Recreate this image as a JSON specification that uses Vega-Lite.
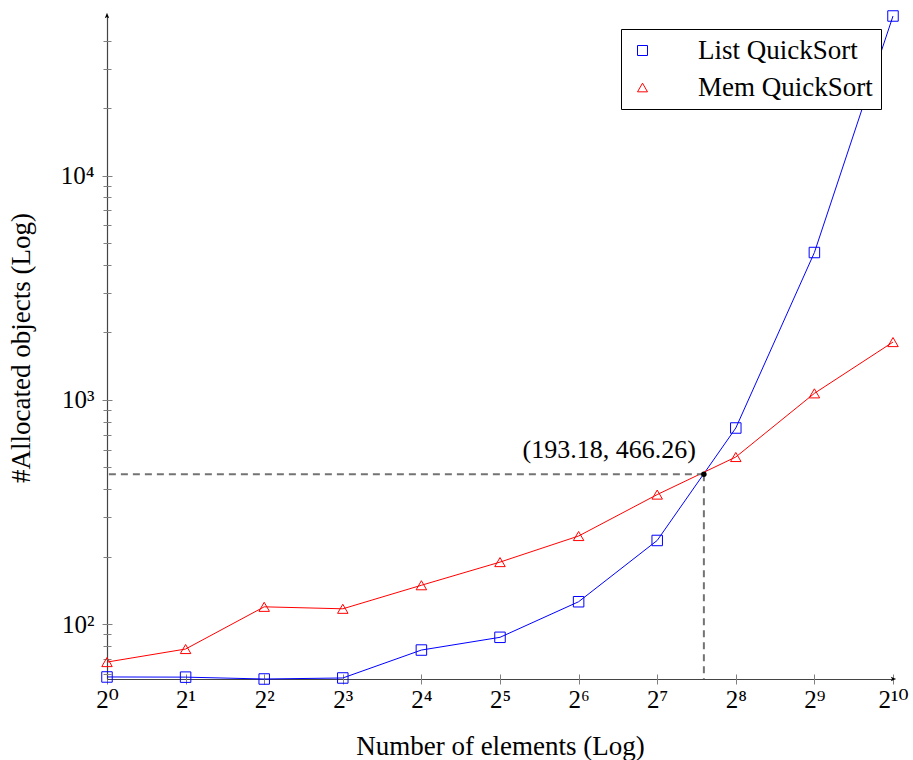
{
  "$schema": "https://vega.github.io/schema/vega-lite/v6.json",
  "autosize": "none",
  "width": 786,
  "height": 663,
  "padding": {"left": 107, "top": 16, "right": 20, "bottom": 81},
  "config": {"view": {"stroke": null}, "font": "Liberation Serif, DejaVu Serif"},
  "datasets": {
    "series": [
      {"n": 1, "series": "List QuickSort", "v": 58.1},
      {"n": 2, "series": "List QuickSort", "v": 58.0},
      {"n": 4, "series": "List QuickSort", "v": 56.9},
      {"n": 8, "series": "List QuickSort", "v": 57.5},
      {"n": 16, "series": "List QuickSort", "v": 76.6},
      {"n": 32, "series": "List QuickSort", "v": 87.3},
      {"n": 64, "series": "List QuickSort", "v": 125.8},
      {"n": 128, "series": "List QuickSort", "v": 236},
      {"n": 256, "series": "List QuickSort", "v": 749},
      {"n": 512, "series": "List QuickSort", "v": 4540},
      {"n": 1024, "series": "List QuickSort", "v": 51500},
      {"n": 1, "series": "Mem QuickSort", "v": 67.7},
      {"n": 2, "series": "Mem QuickSort", "v": 77.4},
      {"n": 4, "series": "Mem QuickSort", "v": 119.4},
      {"n": 8, "series": "Mem QuickSort", "v": 117},
      {"n": 16, "series": "Mem QuickSort", "v": 149},
      {"n": 32, "series": "Mem QuickSort", "v": 189},
      {"n": 64, "series": "Mem QuickSort", "v": 247},
      {"n": 128, "series": "Mem QuickSort", "v": 378},
      {"n": 256, "series": "Mem QuickSort", "v": 556},
      {"n": 512, "series": "Mem QuickSort", "v": 1069},
      {"n": 1024, "series": "Mem QuickSort", "v": 1810}
    ],
    "intersection": [{"n": 193.18, "v": 466.26}]
  },
  "resolve": {"axis": {"x": "independent", "y": "independent"}},
  "layer": [
    {
      "data": {"name": "series"},
      "mark": {"type": "line", "strokeWidth": 1},
      "encoding": {
        "x": {
          "field": "n", "type": "quantitative",
          "scale": {"type": "log", "base": 2, "domain": [1, 1024], "nice": false},
          "axis": {"orient": "bottom", "domain": true, "domainColor": "#444444", "domainWidth": 1.2, "ticks": false, "labels": false, "grid": false,
                   "title": "Number of elements (Log)", "titleFont": "Liberation Serif, DejaVu Serif", "titleFontSize": 27, "titleFontWeight": "normal", "titleColor": "#000000", "titlePadding": 54}
        },
        "y": {
          "field": "v", "type": "quantitative",
          "scale": {"type": "log", "domain": [56.9, 51500], "nice": false},
          "axis": {"orient": "left", "domain": true, "domainColor": "#444444", "domainWidth": 1.2, "ticks": false, "labels": false, "grid": false,
                   "title": "#Allocated objects (Log)", "titleFont": "Liberation Serif, DejaVu Serif", "titleFontSize": 27, "titleFontWeight": "normal", "titleColor": "#000000", "titlePadding": 72}
        },
        "color": {
          "field": "series", "type": "nominal",
          "scale": {"domain": ["List QuickSort", "Mem QuickSort"], "range": ["#0000ff", "#ff0000"]},
          "legend": {
            "title": null, "orient": "none", "legendX": 514, "legendY": 13,
            "strokeColor": "#000000", "fillColor": "#ffffff", "padding": 8,
            "labelFont": "Liberation Serif, DejaVu Serif", "labelFontSize": 27, "labelColor": "#000000", "labelOffset": 42, "labelLimit": 400,
            "rowPadding": 9, "symbolSize": 100, "symbolStrokeWidth": 1,
            "encode": {
              "symbols": {
                "update": {
                  "shape": {"signal": "datum.value == 'List QuickSort' ? 'M -0.6 0 L 3 0 M 3 -1 L 5 -1 L 5 1 L 3 1 Z M 5 0 L 8.4 0' : 'M -0.6 0 L 3.1 0 M 4 -0.9 L 4.9 0.6 L 3.1 0.6 Z M 4.9 0 L 8.4 0'"},
                  "stroke": {"signal": "datum.value == 'List QuickSort' ? '#0000ff' : '#ff0000'"},
                  "fill": {"value": "transparent"}
                }
              }
            }
          }
        }
      }
    },
    {
      "data": {"name": "series"},
      "mark": {"type": "point", "filled": false, "strokeWidth": 1, "size": 110, "opacity": 1},
      "encoding": {
        "x": {
          "field": "n", "type": "quantitative",
          "axis": {"orient": "bottom", "domain": false, "grid": false, "values": [1, 2, 4, 8, 16, 32, 64, 128, 256, 512, 1024],
                   "labelExpr": "['2⁰','2¹','2²','2³','2⁴','2⁵','2⁶','2⁷','2⁸','2⁹','2¹⁰'][round(log(datum.value)/LN2)]",
                   "tickSize": 10, "offset": -5, "tickColor": "#808080", "labelFont": "Liberation Serif, DejaVu Serif", "labelFontSize": 25, "labelColor": "#000000", "labelPadding": 3, "labelFlush": false, "labelOverlap": false, "title": null}
        },
        "y": {
          "field": "v", "type": "quantitative",
          "axis": {"orient": "left", "domain": false, "grid": false, "values": [100, 1000, 10000],
                   "labelExpr": "datum.value == 100 ? '10²' : (datum.value == 1000 ? '10³' : '10⁴')",
                   "tickSize": 10, "offset": -5, "tickColor": "#808080", "labelFont": "Liberation Serif, DejaVu Serif", "labelFontSize": 25, "labelColor": "#000000", "labelPadding": 8, "labelOverlap": false, "title": null}
        },
        "color": {
          "field": "series", "type": "nominal",
          "legend": {
            "title": null, "orient": "none", "legendX": 514, "legendY": 13,
            "strokeColor": "#000000", "fillColor": "#ffffff", "padding": 8,
            "labelFont": "Liberation Serif, DejaVu Serif", "labelFontSize": 27, "labelColor": "#000000", "labelOffset": 42, "labelLimit": 400,
            "rowPadding": 9, "symbolSize": 100, "symbolStrokeWidth": 1,
            "encode": {
              "symbols": {
                "update": {
                  "shape": {"signal": "datum.value == 'List QuickSort' ? 'M -0.6 0 L 3 0 M 3 -1 L 5 -1 L 5 1 L 3 1 Z M 5 0 L 8.4 0' : 'M -0.6 0 L 3.1 0 M 4 -0.9 L 4.9 0.6 L 3.1 0.6 Z M 4.9 0 L 8.4 0'"},
                  "stroke": {"signal": "datum.value == 'List QuickSort' ? '#0000ff' : '#ff0000'"},
                  "fill": {"value": "transparent"}
                }
              }
            }
          }
        },
        "shape": {
          "field": "series", "type": "nominal",
          "scale": {"domain": ["List QuickSort", "Mem QuickSort"], "range": ["square", "triangle-up"]},
          "legend": {
            "title": null, "orient": "none", "legendX": 514, "legendY": 13,
            "strokeColor": "#000000", "fillColor": "#ffffff", "padding": 8,
            "labelFont": "Liberation Serif, DejaVu Serif", "labelFontSize": 27, "labelColor": "#000000", "labelOffset": 42, "labelLimit": 400,
            "rowPadding": 9, "symbolSize": 100, "symbolStrokeWidth": 1,
            "encode": {
              "symbols": {
                "update": {
                  "shape": {"signal": "datum.value == 'List QuickSort' ? 'M -0.6 0 L 3 0 M 3 -1 L 5 -1 L 5 1 L 3 1 Z M 5 0 L 8.4 0' : 'M -0.6 0 L 3.1 0 M 4 -0.9 L 4.9 0.6 L 3.1 0.6 Z M 4.9 0 L 8.4 0'"},
                  "stroke": {"signal": "datum.value == 'List QuickSort' ? '#0000ff' : '#ff0000'"},
                  "fill": {"value": "transparent"}
                }
              }
            }
          }
        }
      }
    },
    {
      "data": {"name": "intersection"},
      "mark": {"type": "rule", "color": "#737373", "strokeWidth": 2, "strokeDash": [7, 5]},
      "encoding": {
        "x": {"field": "n", "type": "quantitative", "axis": null},
        "y": {"field": "v", "type": "quantitative", "axis": null},
        "y2": {"datum": 56.9}
      }
    },
    {
      "data": {"name": "intersection"},
      "mark": {"type": "rule", "color": "#737373", "strokeWidth": 2, "strokeDash": [7, 5]},
      "encoding": {
        "x": {"field": "n", "type": "quantitative", "axis": null},
        "x2": {"datum": 1},
        "y": {
          "field": "v", "type": "quantitative",
          "axis": {"orient": "left", "domain": false, "grid": false, "labels": false, "title": null, "tickSize": 8, "offset": -4, "tickColor": "#808080",
                   "values": [60, 70, 80, 90, 200, 300, 400, 500, 600, 700, 800, 900, 2000, 3000, 4000, 5000, 6000, 7000, 8000, 9000, 20000, 30000, 40000]}
        }
      }
    },
    {
      "data": {"name": "intersection"},
      "mark": {"type": "point", "filled": true, "color": "#000000", "size": 30, "opacity": 1},
      "encoding": {
        "x": {"field": "n", "type": "quantitative", "axis": null},
        "y": {"field": "v", "type": "quantitative", "axis": null}
      }
    },
    {
      "data": {"name": "intersection"},
      "mark": {"type": "text", "font": "Liberation Serif, DejaVu Serif", "fontSize": 26, "color": "#000000", "align": "right", "baseline": "alphabetic", "dx": -8, "dy": -16},
      "encoding": {
        "x": {"field": "n", "type": "quantitative", "axis": null},
        "y": {"field": "v", "type": "quantitative", "axis": null},
        "text": {"value": "(193.18,  466.26)"}
      }
    },
    {
      "data": {"name": "intersection"},
      "mark": {"type": "point", "shape": "M 0 -1 L 0.7 0.7 L 0 0.3 L -0.7 0.7 Z", "filled": true, "color": "#000000", "size": 40, "opacity": 1},
      "encoding": {
        "x": {"datum": 1, "type": "quantitative", "axis": null},
        "y": {"datum": 51500, "type": "quantitative", "axis": null}
      }
    },
    {
      "data": {"name": "intersection"},
      "mark": {"type": "point", "shape": "M 1 0 L -0.7 0.7 L -0.3 0 L -0.7 -0.7 Z", "filled": true, "color": "#000000", "size": 40, "opacity": 1},
      "encoding": {
        "x": {"datum": 1024, "type": "quantitative", "axis": null},
        "y": {"datum": 56.9, "type": "quantitative", "axis": null}
      }
    }
  ]
}
